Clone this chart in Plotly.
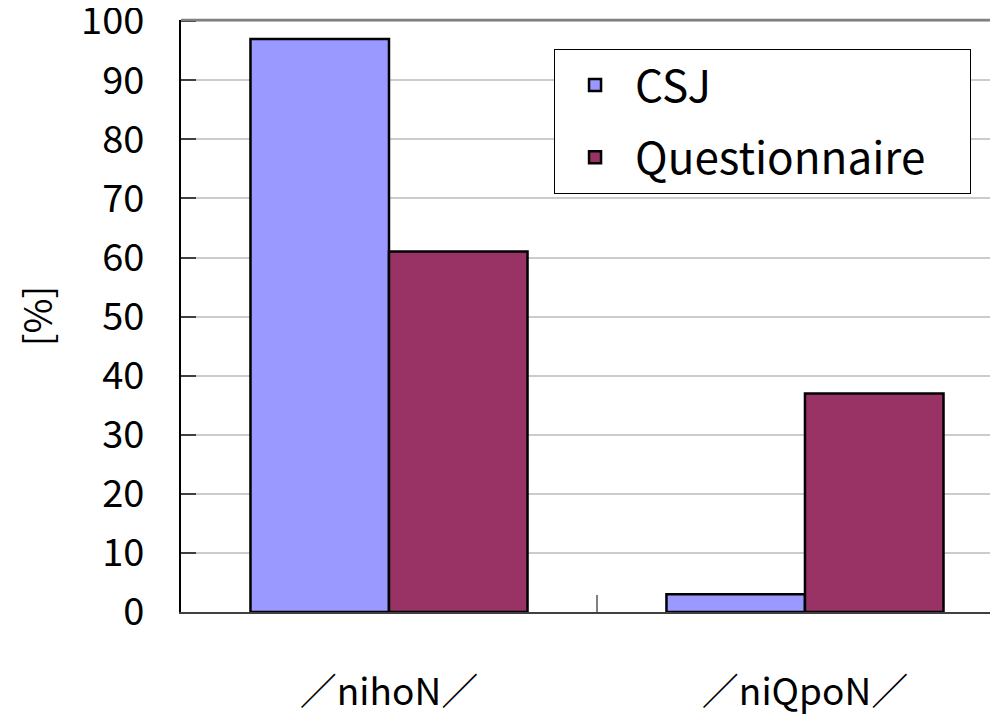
import plotly.graph_objects as go

categories = ["／nihoN／", "／niQpoN／"]
csj = [97, 3]
questionnaire = [61, 37]
y_ticks = [0, 10, 20, 30, 40, 50, 60, 70, 80, 90, 100]

FONT = "Noto Sans CJK JP"
NB = "\u00a0"

fig = go.Figure()
fig.add_trace(go.Bar(x=categories, y=csj, name="CSJ", legendgroup="a",
                     marker=dict(color="#9999FF", line=dict(color="black", width=2.5))))
fig.add_trace(go.Bar(x=categories, y=questionnaire, name="Questionnaire" + NB * 4, legendgroup="b",
                     marker=dict(color="#993366", line=dict(color="black", width=2.5))))

# the page body adds an 8px offset, so the figure is 8px smaller and margins shifted
fig.update_layout(
    width=990, height=710,
    margin=dict(l=173, r=0, t=12, b=106),
    paper_bgcolor="white", plot_bgcolor="white",
    barmode="group", bargap=0.334, bargroupgap=0,
    font=dict(family=FONT, color="black"),
    showlegend=True,
    legend=dict(x=0.4566, y=0.951, xanchor="left", yanchor="top",
                bgcolor="white", bordercolor="black", borderwidth=1,
                font=dict(size=44, family=FONT), itemwidth=70,
                traceorder="grouped", tracegroupgap=12),
)
fig.update_xaxes(
    range=[-0.5, 1.464], showgrid=False, automargin=False,
    showline=True, linecolor="#404040", linewidth=2,
    ticks="inside", tickson="boundaries", ticklen=17, tickcolor="#808080", tickwidth=1.5,
    tickfont=dict(size=37, family=FONT), ticklabelstandoff=47,
)
fig.update_yaxes(
    range=[0, 100.2], tickvals=y_ticks, automargin=False, ticklabeloverflow="allow",
    showgrid=True, gridcolor="#cccccc", gridwidth=1.5,
    showline=True, linecolor="black", linewidth=2,
    ticks="inside", ticklen=15, tickcolor="#404040", tickwidth=1.5,
    tickfont=dict(size=38, family=FONT), ticklabelstandoff=27,
    title=dict(text="[%]", font=dict(size=38, family=FONT), standoff=42),
    zeroline=False,
)
fig.add_shape(type="line", xref="paper", yref="paper", x0=0, x1=1, y0=1, y1=1,
              line=dict(color="#808080", width=2.5))

fig.write_html("out.html")
